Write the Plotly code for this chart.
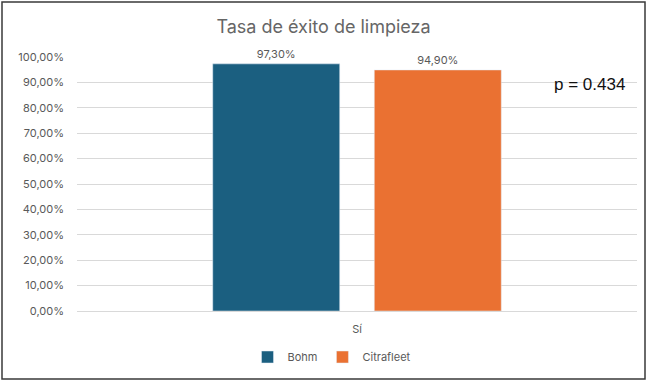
import plotly.graph_objects as go

categories = ["Sí"]
series_names = ["Bohm", "Citrafleet"]
bohm_values = [97.3]
citrafleet_values = [94.9]
bohm_labels = ["97,30%"]
citrafleet_labels = ["94,90%"]
tick_values = [0, 10, 20, 30, 40, 50, 60, 70, 80, 90, 100]
tick_labels = ["0,00%", "10,00%", "20,00%", "30,00%", "40,00%", "50,00%",
               "60,00%", "70,00%", "80,00%", "90,00%", "100,00%"]
title_text = "Tasa de éxito de limpieza"
p_text = "p = 0.434"

W, H = 647, 381
L, R, T, B = 77, 10, 57, 70
plot_w = W - L - R
plot_h = H - T - B

def px_to_paper_x(px):
    return (px - L) / plot_w

def py_to_paper_y(py):
    return (H - B - py) / plot_h

label_font = dict(family="Inter, Roboto, sans-serif", size=11, color="#595959")

fig = go.Figure()
fig.add_trace(go.Bar(
    x=categories, y=bohm_values, name=series_names[0],
    marker=dict(color="#1B5F80"),
    text=bohm_labels, textposition="outside", textfont=label_font,
    cliponaxis=False, constraintext="none",
))
fig.add_trace(go.Bar(
    x=categories, y=citrafleet_values, name=series_names[1],
    marker=dict(color="#EA7132"),
    text=citrafleet_labels, textposition="outside", textfont=label_font,
    cliponaxis=False, constraintext="none",
))

fig.update_layout(
    width=W, height=H,
    margin=dict(l=L, r=R, t=T, b=B),
    paper_bgcolor="white", plot_bgcolor="white",
    barmode="group", bargap=0.423, bargroupgap=0.214,
    title=dict(text=title_text, x=0.5, xref="container", xanchor="center",
               y=1 - 27 / H, yref="container", yanchor="middle",
               font=dict(family="Inter, Roboto, sans-serif", size=18, color="#666666")),
    font=label_font,
    showlegend=True,
    legend=dict(orientation="h", x=px_to_paper_x(332), xanchor="center",
                y=py_to_paper_y(357), yanchor="middle",
                font=dict(family="Inter, Roboto, sans-serif", size=11, color="#595959"),
                itemwidth=30, bgcolor="rgba(0,0,0,0)"),
    xaxis=dict(showgrid=False, showline=False, ticks="",
               tickfont=label_font, ticklabelstandoff=10),
    yaxis=dict(range=[0, 100], tickvals=tick_values, ticktext=tick_labels,
               showgrid=True, gridcolor="#D9D9D9", gridwidth=1,
               zeroline=True, zerolinecolor="#D9D9D9", zerolinewidth=1,
               showline=False, ticks="", tickfont=label_font,
               ticklabelstandoff=12),
)

fig.add_annotation(
    text=p_text, xref="paper", yref="paper",
    x=px_to_paper_x(589), y=py_to_paper_y(84),
    xanchor="center", yanchor="middle", showarrow=False,
    font=dict(family="Liberation Sans, Arial, sans-serif", size=17, color="#111111"),
)

fig.add_shape(
    type="rect", xref="paper", yref="paper",
    x0=px_to_paper_x(2), x1=px_to_paper_x(645),
    y0=py_to_paper_y(379), y1=py_to_paper_y(2),
    line=dict(color="#3A3A3A", width=1.5), fillcolor="rgba(0,0,0,0)",
    layer="below",
)

fig.write_html("out.html")
